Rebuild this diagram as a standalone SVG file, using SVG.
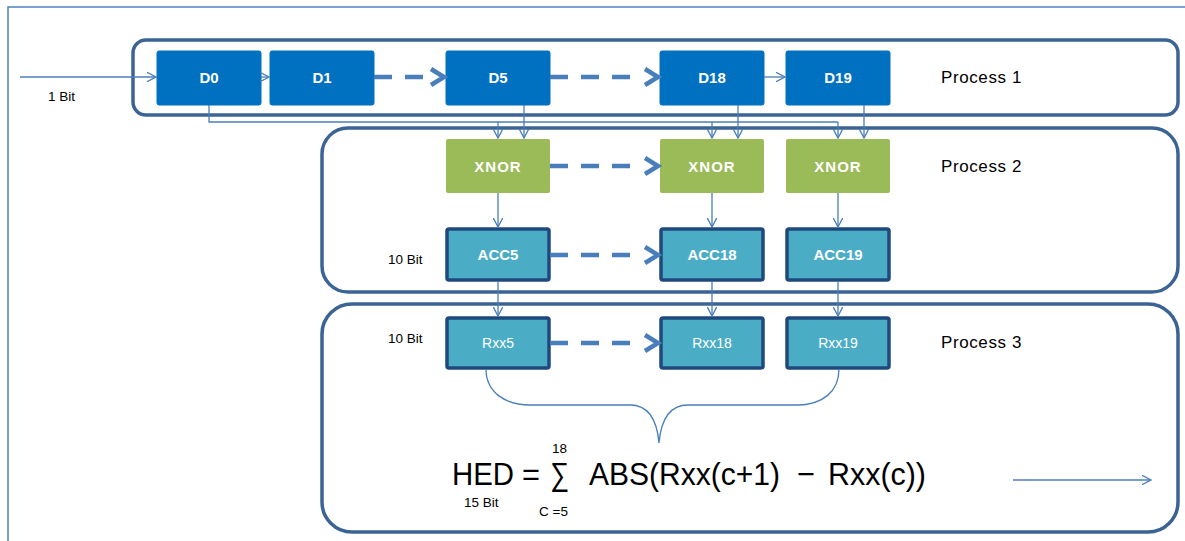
<svg xmlns="http://www.w3.org/2000/svg" width="1185" height="541" viewBox="0 0 1185 541">
<defs>
<style>
.frame{fill:none;stroke:#4f81bd;stroke-width:1.5}
.proc{fill:#fff;stroke:#3b6494;stroke-width:3.5}
.d{fill:#0070c0;stroke:#0070c0;stroke-width:1}
.x{fill:#9bbb59}
.a{fill:#4bacc6;stroke:#1f497d;stroke-width:3.5}
.wt{fill:#fff;font-family:"Liberation Sans",Arial,sans-serif;font-size:15px;font-weight:bold;text-anchor:middle}
.wr{fill:#fff;font-family:"Liberation Sans",Arial,sans-serif;font-size:14px;text-anchor:middle}
.lbl{fill:#000;font-family:"Liberation Sans",Arial,sans-serif;font-size:17px;letter-spacing:0.6px}
.sm{fill:#000;font-family:"Liberation Sans",Arial,sans-serif;font-size:13.5px}
.f{fill:#000;font-family:"Liberation Sans",Arial,sans-serif;font-size:32px}
.thin{fill:none;stroke:#4a7ebb;stroke-width:1.3}
.dash{fill:none;stroke:#4a7ebb;stroke-width:4.5;stroke-dasharray:18 13}
.chev{fill:none;stroke:#4a7ebb;stroke-width:4.5;stroke-linejoin:miter}
</style>
<marker id="ah" viewBox="0 0 10 10" refX="9.5" refY="5" markerWidth="10" markerHeight="10" markerUnits="userSpaceOnUse" orient="auto">
<path d="M0,0 L9.5,5 L0,10" fill="none" stroke="#4a7ebb" stroke-width="1.3"/>
</marker>
</defs>
<rect x="0" y="0" width="1185" height="541" fill="#fff"/>
<rect class="frame" x="8" y="7" width="1220" height="600"/>

<g id="process1">
<rect class="proc" x="133" y="40" width="1045" height="75" rx="13"/>
<text class="lbl" x="941" y="83">Process 1</text>
</g>
<g id="process2">
<rect class="proc" x="322" y="128" width="856" height="164" rx="26"/>
<text class="lbl" x="941" y="172">Process 2</text>
</g>
<g id="process3">
<rect class="proc" x="322" y="304" width="856" height="228" rx="30"/>
<text class="lbl" x="941" y="348">Process 3</text>
</g>

<g id="D0"><rect class="d" x="157" y="51" width="104" height="54" rx="2"/><text class="wt" x="209" y="83">D0</text></g>
<g id="D1"><rect class="d" x="270" y="51" width="104" height="54" rx="2"/><text class="wt" x="322" y="83">D1</text></g>
<g id="D5"><rect class="d" x="446" y="51" width="104" height="54" rx="2"/><text class="wt" x="498" y="83">D5</text></g>
<g id="D18"><rect class="d" x="660" y="51" width="104" height="54" rx="2"/><text class="wt" x="712" y="83">D18</text></g>
<g id="D19"><rect class="d" x="786" y="51" width="104" height="54" rx="2"/><text class="wt" x="838" y="83">D19</text></g>

<g id="XNOR5"><rect class="x" x="446" y="139" width="104" height="54" rx="2"/><text class="wt" x="498" y="172" letter-spacing="1">XNOR</text></g>
<g id="XNOR18"><rect class="x" x="660" y="139" width="104" height="54" rx="2"/><text class="wt" x="712" y="172" letter-spacing="1">XNOR</text></g>
<g id="XNOR19"><rect class="x" x="786" y="139" width="104" height="54" rx="2"/><text class="wt" x="838" y="172" letter-spacing="1">XNOR</text></g>

<g id="ACC5"><rect class="a" x="447" y="229" width="102" height="51" rx="2"/><text class="wt" x="498" y="260">ACC5</text></g>
<g id="ACC18"><rect class="a" x="661" y="229" width="102" height="51" rx="2"/><text class="wt" x="712" y="260">ACC18</text></g>
<g id="ACC19"><rect class="a" x="787" y="229" width="102" height="51" rx="2"/><text class="wt" x="838" y="260">ACC19</text></g>

<g id="Rxx5"><rect class="a" x="447" y="318" width="102" height="50" rx="2"/><text class="wr" x="498" y="348">Rxx5</text></g>
<g id="Rxx18"><rect class="a" x="661" y="318" width="102" height="50" rx="2"/><text class="wr" x="712" y="348">Rxx18</text></g>
<g id="Rxx19"><rect class="a" x="787" y="318" width="102" height="50" rx="2"/><text class="wr" x="838" y="348">Rxx19</text></g>

<g id="labels">
<text class="sm" x="48" y="101">1 Bit</text>
<text class="sm" x="388" y="264">10 Bit</text>
<text class="sm" x="388" y="343">10 Bit</text>
<text class="sm" x="464" y="507">15 Bit</text>
</g>

<g id="formula">
<text class="f" x="452" y="485" textLength="62" lengthAdjust="spacingAndGlyphs">HED</text>
<text class="f" x="522" y="485" textLength="18" lengthAdjust="spacingAndGlyphs">=</text>
<text class="f" x="550" y="485" font-size="24" textLength="19" lengthAdjust="spacingAndGlyphs">∑</text>
<text class="sm" x="552" y="453" font-size="14">18</text>
<text class="sm" x="539" y="516" font-size="14">C =5</text>
<text class="f" x="589" y="485" textLength="191" lengthAdjust="spacingAndGlyphs">ABS(Rxx(c+1)</text>
<text class="f" x="797" y="485" textLength="18" lengthAdjust="spacingAndGlyphs">−</text>
<text class="f" x="828" y="485" textLength="98" lengthAdjust="spacingAndGlyphs">Rxx(c))</text>
</g>

<g id="connectors">
<path class="thin" d="M20,77 H156" marker-end="url(#ah)"/>
<path class="thin" d="M261,77 H269" marker-end="url(#ah)"/>
<path class="dash" d="M374,77 H423"/>
<path class="chev" d="M431,69 L444,77 L431,85"/>
<path class="dash" d="M550,77 H636"/>
<path class="chev" d="M645,69 L658,77 L645,85"/>
<path class="thin" d="M764,77 H785" marker-end="url(#ah)"/>

<path class="thin" d="M209,105 V122 H838"/>
<path class="thin" d="M498,122 V138" marker-end="url(#ah)"/>
<path class="thin" d="M712,122 V138" marker-end="url(#ah)"/>
<path class="thin" d="M838,122 V138" marker-end="url(#ah)"/>
<path class="thin" d="M524,105 V138" marker-end="url(#ah)"/>
<path class="thin" d="M738,105 V138" marker-end="url(#ah)"/>
<path class="thin" d="M864,105 V138" marker-end="url(#ah)"/>

<path class="dash" d="M550,166 H636"/>
<path class="chev" d="M645,158 L658,166 L645,174"/>
<path class="dash" d="M550,255 H636"/>
<path class="chev" d="M645,247 L658,255 L645,263"/>
<path class="dash" d="M550,343 H636"/>
<path class="chev" d="M645,335 L658,343 L645,351"/>

<path class="thin" d="M498,193 V227" marker-end="url(#ah)"/>
<path class="thin" d="M712,193 V227" marker-end="url(#ah)"/>
<path class="thin" d="M838,193 V227" marker-end="url(#ah)"/>
<path class="thin" d="M498,281 V316" marker-end="url(#ah)"/>
<path class="thin" d="M712,281 V316" marker-end="url(#ah)"/>
<path class="thin" d="M838,281 V316" marker-end="url(#ah)"/>

<path class="thin" d="M486,369 C486,392 505,405 530,405 H630 C648,405 657,420 659,443 C661,420 670,405 688,405 H797 C822,405 839,392 839,369"/>
<path class="thin" d="M1013,480 H1151" marker-end="url(#ah)"/>
</g>
</svg>
